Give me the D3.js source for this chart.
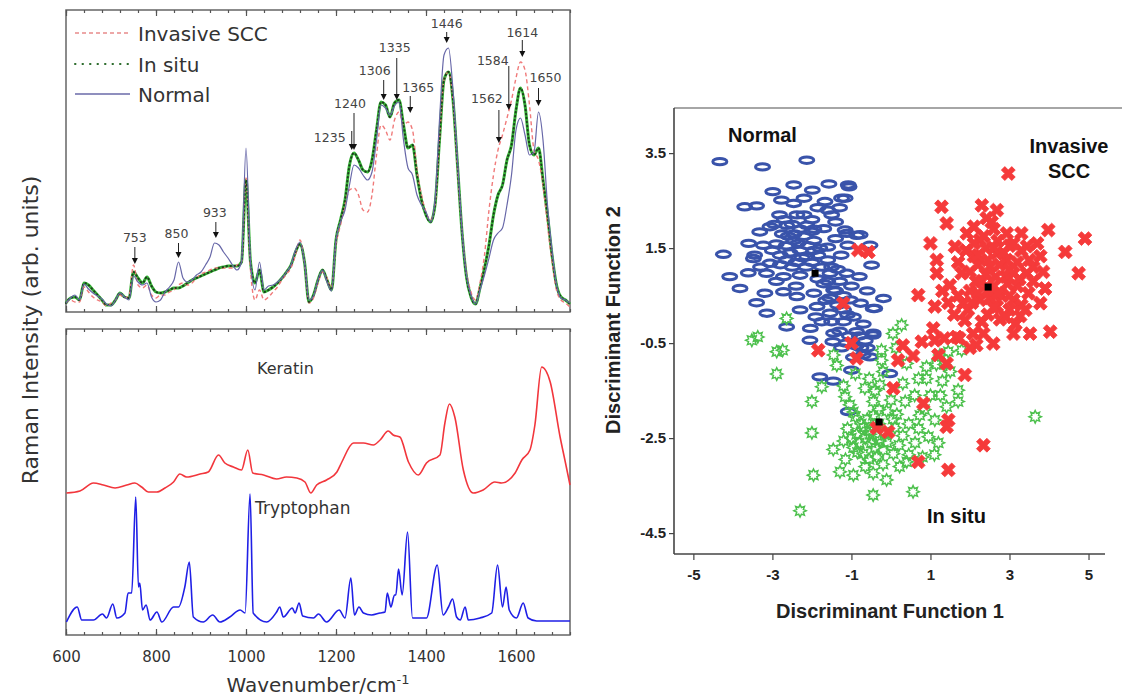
<!DOCTYPE html>
<html>
<head>
<meta charset="utf-8">
<script src="https://cdn.jsdelivr.net/npm/d3@7"></script>
<style>
  body { margin: 0; background: #fff; }
  svg { display: block; }
</style>
</head>
<body>
<svg width="1122" height="698"></svg>
<script>
// ---- spectra (top panel), sampled every 10 cm-1 from 600 to 1720 ----
var wavenumbers = d3.range(600, 1721, 10);

var invasiveSCC = [9,12,10,10,25,20,15,12,10,6, 9,12,17,14,16,47,27,24,27,17,
  14,17,17,20,22,27,29,27,29,34, 38,40,42,44,44,44,44,44,47,50,
  134,42,12,22,12,15,20,25,32,38, 44,57,72,50,9,14,29,40,34,24,
  67,87,107,122,124,117,102,100,117,157, 187,182,172,192,200,187,190,182,142,117,
  100,92,107,172,232,240,212,144,82,40, 20,12,29,57,102,137,162,177,194,212,
  234,250,242,207,162,152,127,87,50,22, 12,9,5];

var inSitu = [9,14,15,12,29,27,22,17,12,7, 7,12,19,15,14,40,34,29,35,26,
  20,19,20,22,24,24,26,29,32,34, 36,38,40,42,44,45,46,46,46,50,
  132,50,29,42,20,22,25,29,34,40, 47,60,68,50,10,17,32,42,32,22,
  72,92,112,147,159,152,142,140,152,182, 210,207,195,209,212,187,164,167,137,112,
  97,90,107,172,232,240,212,147,80,35, 15,8,24,44,67,97,117,127,152,167,
  202,224,207,167,157,164,132,97,57,27, 15,12,8];

var normal = [9,14,17,12,28,23,19,16,13,8, 6,12,19,15,12,36,30,27,29,15,
  10,12,20,25,32,50,34,30,32,37, 40,47,55,69,67,60,54,47,42,50,
  164,50,22,50,22,26,27,30,34,40, 47,62,70,50,12,16,32,42,30,21,
  72,90,102,127,147,144,137,132,140,172, 207,204,197,206,210,172,144,137,117,107,
  100,90,112,192,257,264,222,152,82,37, 17,8,22,37,54,72,79,84,107,137,
  182,194,177,157,160,200,172,107,62,27, 14,12,9];

var peakLabels = [753, 850, 933, 1235, 1240, 1306, 1335, 1365, 1446, 1562, 1584, 1614, 1650];

// ---- reference spectra (bottom panel) ----
var keratinWn = [601,631,661,683,709,735,753,768,783,802,820,839,853,868,898,916,939,953,972,990,
  1004,1015,1039,1068,1090,1113,1131,1144,1157,1179,1202,1213,1239,1261,1283,1298,1316,1327,1342,1361,
  1383,1401,1431,1442,1452,1464,1483,1505,1527,1553,1568,1598,1613,1631,1642,1657,1676,1698,1710,1720];
var keratin = [142,144,152,150,147,150,152,148,143,143,147,153,161,158,161,163,180,172,168,165,
  185,162,160,156,158,157,153,142,150,155,163,173,192,192,190,195,204,200,198,173,
  160,172,180,212,231,218,165,142,145,153,152,162,175,185,210,268,253,198,172,150];

var tryptophanWn = [601,625,635,661,681,690,704,713,731,738,746,755,761,764,770,778,787,802,813,839,
  850,864,874,883,905,926,942,964,987,998,1009,1016,1046,1068,1075,1083,1103,1109,1118,1126,
  1150,1161,1179,1207,1220,1233,1241,1251,1261,1279,1298,1309,1314,1322,1330,1333,1339,1347,1359,1370,
  1401,1425,1438,1450,1459,1468,1476,1487,1494,1520,1546,1559,1570,1578,1585,1601,1616,1627,1646,1720];
var tryptophan = [13,28,15,15,21,17,31,17,22,42,42,138,48,52,25,30,15,23,13,28,
  28,48,73,18,13,20,13,18,25,22,141,22,13,23,28,18,27,22,32,19,
  17,21,13,25,17,57,20,28,22,20,22,23,42,28,40,40,66,40,103,17,
  17,70,20,28,36,18,15,28,15,17,22,70,28,48,25,17,32,17,14,14];

var wnTicks = [600, 800, 1000, 1200, 1400, 1600];

// ---- discriminant scores ----
var normalPts = [[-4.33,3.32],[-3.25,3.21],[-2.13,3.35],[-2.99,2.69],[-2.46,2.83],[-1.99,2.72],[-1.57,2.85],[-1.06,2.79],
  [-3.70,2.37],[-3.40,2.39],[-2.77,2.51],[-2.46,2.44],[-1.67,2.48],[-1.25,2.55],[-1.60,2.30],[-2.82,2.20],[-2.38,2.20],
  [-1.50,2.20],[-3.06,1.95],[-2.64,1.98],[-2.13,1.98],[-1.70,1.91],[-1.16,1.88],[-0.87,1.77],[-3.32,1.84],[-3.23,1.56],
  [-2.90,1.59],[-2.46,1.66],[-1.95,1.66],[-1.60,1.52],[-1.09,1.56],[-0.53,1.56],[-4.24,1.37],[-3.48,1.28],[-3.06,1.18],
  [-2.64,1.25],[-2.13,1.32],[-1.60,1.25],[-1.26,1.35],[-0.49,1.14],[-4.08,0.90],[-3.61,0.98],[-3.15,0.97],[-2.72,0.90],
  [-2.30,0.93],[-1.54,0.97],[-1.12,0.97],[-3.82,0.65],[-3.19,0.55],[-2.72,0.58],[-2.38,0.48],[-1.95,0.55],[-1.45,0.62],
  [-1.03,0.41],[-0.77,0.34],[-0.45,0.23],[-3.14,0.13],[-2.64,-0.16],[-2.30,0.20],[-1.87,0.27],[-1.54,0.13],[-1.20,0.20],
  [-2.04,-0.19],[-1.45,-0.29],[-0.87,-0.26],[-0.45,-0.29],[-1.08,2.83],[-1.16,2.55],[-1.12,1.81],[-0.78,1.78],[-0.19,0.44],
  [-0.41,0.23],[-0.45,-0.33],[-2.05,-0.44],[-1.47,-0.47],[-1.13,-0.50],[-0.88,-0.56],[-0.76,-0.60],[-0.53,-0.79],
  [-1.00,-1.07],[-1.80,-1.21],[-1.46,-1.30],[-0.03,-1.14],[-1.08,-1.94],
  [-2.6,1.75],[-2.3,1.45],[-2.0,1.2],[-1.8,1.5],[-1.4,1.7],[-2.5,1.1],[-2.8,1.35],[-1.7,0.75],[-1.3,0.8],[-1.0,0.7],
  [-0.8,0.9],[-1.9,0.05],[-1.2,-0.05],[-0.95,0.05],[-0.7,-0.1],[-2.2,2.55],[-1.85,2.35],[-3.6,1.6],[-2.9,0.8],[-1.35,1.05],
  [-0.6,0.6],[-1.55,0.45],[-0.95,-0.8],[-0.65,-0.45],[-1.25,-0.6],[-2.4,0.7],[-3.4,0.35],[-1.75,-0.05],[-2.95,2.0],[-2.2,2.2],
  [-2.7,2.1],[-2.5,2.0],[-2.3,1.9],[-2.0,1.85],[-2.75,1.8],[-2.45,1.8],[-2.2,1.75],[-1.95,1.9],[-2.65,1.55],[-2.35,1.6],
  [-2.1,1.55],[-1.85,1.35],[-2.55,1.4],[-2.25,1.3],[-1.95,1.45],[-2.8,1.15],[-2.4,1.2],[-2.15,1.1],[-1.75,1.1],[-1.5,1.1],
  [-1.85,0.85],[-1.6,0.8],[-1.4,0.6],[-1.2,0.5],[-1.65,0.4],[-1.35,0.3],[-1.1,0.1],[-1.5,-0.05],[-1.3,-0.25],[-1.05,-0.35],
  [-0.8,-0.35],[-0.6,-0.6],[-0.7,-0.75],[-3.3,1.1],[-3.0,1.45],[-3.45,1.35],[-2.0,2.1],[-1.4,2.05],[-1.3,2.35]];

var inSituPts = [[-2.89,-0.68],[-2.89,-1.15],[-2.0,-1.73],[-2.0,-2.39],[-1.96,-3.28],[-2.3,-4.03],[-1.75,-1.42],[-1.37,-0.97],
  [-1.16,-1.63],[-1.04,-1.8],[-0.66,-1.45],[-0.45,-1.73],[-0.24,-0.65],[-0.24,-0.86],[-0.28,-1.38],[0.4,-0.93],[0.36,-1.73],
  [0.9,-1.0],[0.9,-1.25],[1.24,-0.75],[1.45,-0.68],[1.7,-1.49],[1.7,-1.73],[1.41,-1.84],[1.11,-2.12],[0.73,-2.02],[0.95,-2.47],
  [0.61,-2.6],[0.4,-3.0],[0.56,-3.63],[-0.45,-3.7],[-0.11,-3.38],[-0.45,-3.24],[-0.95,-3.28],[-1.29,-3.21],[-1.46,-2.74],
  [-1.2,-2.56],[-0.95,-2.7],[-0.7,-2.83],[-0.36,-2.9],[0.06,-2.83],[0.22,-3.1],[-0.7,-2.28],[-0.53,-2.42],[-0.87,-2.42],
  [-0.28,-2.56],[0.1,-2.28],[0.15,-2.0],[-0.11,-1.93],[-0.45,-2.02],[3.65,-2.05],[-3.52,-0.44],[-2.64,0.02],[-3.37,-0.37],
  [-2.74,-0.65],[-1.45,-0.75],[0.27,-0.12],[0.13,-0.6],[1.79,-0.65],
  [-0.6,-2.1],[-0.9,-2.05],[-0.3,-2.2],[-0.1,-2.6],[0.3,-2.45],[-0.5,-2.6],[-0.8,-2.6],[-1.1,-2.3],[-0.2,-3.05],[0.45,-2.2],
  [0.6,-1.6],[1.0,-1.6],[1.3,-1.3],[0.7,-1.25],[-0.2,-1.1],[-1.2,-1.4],[-0.9,-1.15],[0.0,-1.7],[-0.65,-3.1],[0.8,-2.9],
  [1.2,-2.6],[-0.4,-1.5],[1.15,-0.95],[0.05,-0.3],
  [-0.75,-2.2],[-0.55,-2.35],[-0.35,-2.45],[-0.15,-2.4],[-0.65,-2.5],[-0.4,-2.7],[-0.2,-2.75],[-0.85,-2.8],[-0.55,-2.95],
  [-1.0,-2.5],[-1.15,-2.95],[-0.3,-1.9],[0.2,-2.65],[0.45,-2.85],[0.05,-2.1],[-0.95,-1.95],[0.7,-2.3],[0.85,-1.9],
  [1.25,-1.6],[1.5,-1.1],[1.35,-0.95],[0.3,-1.35],[-0.55,-1.25],[1.1,-2.85]];

var invasivePts = [[2.97,3.07],[1.28,2.37],[1.41,2.02],[2.68,2.30],[2.42,2.13],[1.92,1.81],[1.62,1.53],[2.25,1.67],[2.93,1.81],
  [3.30,1.81],[3.98,1.88],[4.91,1.70],[4.41,1.42],[4.75,0.97],[3.78,1.33],[3.44,1.54],[2.68,1.39],[2.10,1.33],[1.79,0.97],
  [1.16,1.25],[1.16,0.97],[1.49,0.72],[0.69,0.51],[1.11,0.27],[1.83,0.34],[2.25,0.41],[2.68,0.27],[3.10,0.41],[3.48,0.55],
  [3.78,0.34],[3.10,0.97],[3.44,0.97],[2.51,1.11],[2.93,1.25],[1.07,-0.19],[1.11,-0.44],[1.87,-0.02],[2.08,-0.30],[1.66,-0.37],
  [2.34,-0.30],[2.59,-0.51],[3.10,-0.30],[3.52,-0.30],[4.03,-0.26],[2.76,0.00],[3.27,0.07],[-0.83,1.46],[-0.57,1.42],
  [-1.21,0.34],[-1.84,-0.65],[-0.87,-0.82],[0.18,-0.86],[0.56,-0.77],[0.78,-0.47],[1.41,-0.93],[1.87,-1.17],[2.16,-0.54],
  [1.35,-0.40],[1.73,-0.40],[0.06,-1.45],[0.82,-1.77],[1.45,-2.12],[1.41,-2.26],[2.34,-2.65],[0.69,-3.00],[1.45,-3.17],
  [-0.36,-2.29],[-0.07,-2.37],
  [2.0,1.0],[2.3,0.8],[2.6,0.7],[2.9,0.9],[2.2,1.15],[2.4,1.5],[2.7,1.65],[3.0,1.55],[3.2,1.2],[2.5,0.45],[2.0,0.6],[1.7,0.5],
  [3.6,0.8],[3.2,0.7],[2.8,0.5],[1.9,1.45],[2.1,1.95],[3.6,1.1],[1.45,0.35],[2.45,0.1],[1.95,0.2],[3.0,0.2],[2.3,-0.05],
  [1.6,0.1],[3.9,0.65],[1.3,0.6],[2.6,1.9],[3.3,1.45],[2.0,-0.6],[1.2,-0.75],[0.3,-0.55],[-1.0,-0.5],[1.0,1.6],
  [2.1,1.6],[2.35,1.75],[2.6,1.5],[2.85,1.4],[3.1,1.6],[2.2,1.35],[2.45,1.25],[2.75,1.15],[3.0,1.05],[2.15,0.8],
  [2.4,0.95],[2.65,0.9],[2.95,0.75],[3.25,0.85],[2.2,0.55],[2.45,0.6],[2.7,0.55],[3.0,0.5],[3.3,0.3],[2.6,0.25],
  [2.9,0.05],[3.5,1.25],[3.7,1.6],[3.4,0.2],[2.3,2.4],[2.55,2.05],[1.7,1.2],[3.85,1.0],[2.05,0.35],[3.15,-0.1]];

var centroids = [[-1.92,0.97],[2.46,0.68],[-0.30,-2.16]];

var df1Ticks = [-5, -3, -1, 1, 3, 5];
var df2Ticks = [3.5, 1.5, -0.5, -2.5, -4.5];

var svg = d3.select("svg");
var leftFont = "'DejaVu Sans', Verdana, sans-serif";
var rightFont = "'Liberation Sans', Arial, sans-serif";

// ================= LEFT: spectra =================
var x = d3.scaleLinear().domain([600, 1720]).range([66, 570]);
var yTop = d3.scaleLinear().domain([0, 302]).range([312, 10]);
var yBot = d3.scaleLinear().domain([0, 306]).range([635, 329]);

function panelFrame(y0, y1) {
  svg.append("rect")
    .attr("x", 66).attr("y", y0)
    .attr("width", 504).attr("height", y1 - y0)
    .attr("fill", "none").attr("stroke", "#666").attr("stroke-width", 1.5);
  var minor = d3.range(600, 1721, 40);
  [[y0, d3.axisTop], [y1, d3.axisBottom]].forEach(function (t) {
    var g1 = svg.append("g").attr("transform", "translate(0," + t[0] + ")")
      .call(t[1](x).tickValues(minor).tickSize(-3).tickFormat(""));
    var g2 = svg.append("g").attr("transform", "translate(0," + t[0] + ")")
      .call(t[1](x).tickValues(wnTicks).tickSize(-6).tickFormat(""));
    [g1, g2].forEach(function (g) {
      g.select(".domain").remove();
      g.selectAll("line").attr("stroke", "#555").attr("stroke-width", 1.2);
    });
  });
}
panelFrame(10, 312);
panelFrame(329, 635);

var lineTop = d3.line()
  .x(function (d, i) { return x(wavenumbers[i]); })
  .y(function (d) { return yTop(d); })
  .curve(d3.curveMonotoneX);

svg.append("path").datum(inSitu).attr("d", lineTop)
  .attr("fill", "none").attr("stroke", "#36b336").attr("stroke-width", 3);
svg.append("path").datum(invasiveSCC).attr("d", lineTop)
  .attr("fill", "none").attr("stroke", "#f07a7a").attr("stroke-width", 1.4)
  .attr("stroke-dasharray", "4,3");
svg.append("path").datum(inSitu).attr("d", lineTop)
  .attr("fill", "none").attr("stroke", "#1d3f1d").attr("stroke-width", 2)
  .attr("stroke-linecap", "round").attr("stroke-dasharray", "0.5,3.5");
svg.append("path").datum(normal).attr("d", lineTop)
  .attr("fill", "none").attr("stroke", "#6767a8").attr("stroke-width", 1.2);

// peak annotations: [text dx, text baseline, arrow top, arrow tip]
var peakLayout = {
  753: [0, 242, 247, 264], 850: [-2, 238, 243, 258], 933: [-1, 217, 222, 238],
  1235: [-22, 142, 131, 150], 1240: [-4, 108, 113, 150], 1306: [-9, 75, 80, 100],
  1335: [-2, 52, 58, 100], 1365: [8, 92, 96, 113], 1446: [0, 28, 32, 43],
  1562: [-12, 103, 110, 143], 1584: [-16, 65, 66, 110], 1614: [0, 37, 40, 57],
  1650: [7, 82, 88, 106]
};
var ann = svg.append("g");
peakLabels.forEach(function (p) {
  var L = peakLayout[p], ax = x(p);
  ann.append("text").attr("x", ax + L[0]).attr("y", L[1])
    .attr("text-anchor", "middle").attr("font-family", leftFont)
    .attr("font-size", 12.5).attr("fill", "#444").text(p);
  ann.append("line").attr("x1", ax).attr("x2", ax).attr("y1", L[2]).attr("y2", L[3] - 5)
    .attr("stroke", "#222").attr("stroke-width", 1);
  ann.append("path")
    .attr("d", "M" + (ax - 3) + "," + (L[3] - 6) + "L" + (ax + 3) + "," + (L[3] - 6) + "L" + ax + "," + L[3] + "Z")
    .attr("fill", "#111");
});

// legend
var legend = [
  { name: "Invasive SCC", y: 33, stroke: "#e88a8a", w: 1.4, dash: "4,3", cap: "butt" },
  { name: "In situ", y: 64, stroke: "#2b6b2b", w: 2, dash: "0.5,7", cap: "round" },
  { name: "Normal", y: 94, stroke: "#6a6aa8", w: 1.5, dash: null, cap: "butt" }
];
legend.forEach(function (l) {
  svg.append("line").attr("x1", 75).attr("x2", 130).attr("y1", l.y).attr("y2", l.y)
    .attr("stroke", l.stroke).attr("stroke-width", l.w)
    .attr("stroke-dasharray", l.dash).attr("stroke-linecap", l.cap);
  svg.append("text").attr("x", 138).attr("y", l.y + 7.5)
    .attr("font-family", leftFont).attr("font-size", 20).attr("fill", "#333").text(l.name);
});

// bottom panel spectra
var lineK = d3.line().x(function (d, i) { return x(keratinWn[i]); })
  .y(function (d) { return yBot(d); }).curve(d3.curveMonotoneX);
var lineT = d3.line().x(function (d, i) { return x(tryptophanWn[i]); })
  .y(function (d) { return yBot(d); }).curve(d3.curveMonotoneX);
svg.append("path").datum(keratin).attr("d", lineK)
  .attr("fill", "none").attr("stroke", "#f2363c").attr("stroke-width", 1.6);
svg.append("path").datum(tryptophan).attr("d", lineT)
  .attr("fill", "none").attr("stroke", "#1f1fe6").attr("stroke-width", 1.6);
svg.append("text").attr("x", 257).attr("y", 374).attr("font-family", leftFont)
  .attr("font-size", 16).attr("fill", "#333").text("Keratin");
svg.append("text").attr("x", 255).attr("y", 514).attr("font-family", leftFont)
  .attr("font-size", 17).attr("fill", "#333").text("Tryptophan");

// x tick labels
var xLab = svg.append("g").attr("transform", "translate(0,635)")
  .call(d3.axisBottom(x).tickValues(wnTicks).tickSize(0).tickPadding(16).tickFormat(d3.format("d")));
xLab.select(".domain").remove();
xLab.selectAll("text").attr("font-family", leftFont).attr("font-size", 15).attr("fill", "#333");

var xt = svg.append("text").attr("x", 318).attr("y", 692).attr("text-anchor", "middle")
  .attr("font-family", leftFont).attr("font-size", 20).attr("fill", "#333");
xt.append("tspan").text("Wavenumber/cm");
xt.append("tspan").attr("dy", -8).attr("font-size", 13).text("-1");

svg.append("text").attr("transform", "translate(38,330) rotate(-90)")
  .attr("text-anchor", "middle").attr("font-family", leftFont).attr("font-size", 22)
  .attr("fill", "#333").text("Raman Intensity (arb. units)");

// ================= RIGHT: discriminant scatter =================
var sx = d3.scaleLinear().domain([-5.49, 5.67]).range([674, 1115]);
var sy = d3.scaleLinear().domain([-4.94, 4.45]).range([554, 108]);

svg.append("line").attr("x1", 674).attr("x2", 1122).attr("y1", 108).attr("y2", 108)
  .attr("stroke", "#888").attr("stroke-width", 1.5);

var yAx = svg.append("g").attr("transform", "translate(674,0)")
  .call(d3.axisLeft(sy).tickValues(df2Ticks).tickSize(5).tickPadding(3).tickFormat(function (d) { return String(d); }));
var xAx = svg.append("g").attr("transform", "translate(0,554)")
  .call(d3.axisBottom(sx).tickValues(df1Ticks).tickSize(6).tickPadding(9).tickFormat(function (d) { return String(d); }));
[yAx, xAx].forEach(function (g) {
  g.select(".domain").attr("stroke", "#444").attr("stroke-width", 1.6);
  g.selectAll("line").attr("stroke", "#444").attr("stroke-width", 1.2);
  g.selectAll("text").attr("font-family", rightFont).attr("font-weight", "bold")
    .attr("font-size", 15).attr("fill", "#222");
});
yAx.select(".domain").attr("d", "M0,108V554");
xAx.select(".domain").attr("d", "M674,0H1105");

var pts = svg.append("g");
pts.selectAll("ellipse.normal").data(normalPts).enter().append("ellipse")
  .attr("cx", function (d) { return sx(d[0]); })
  .attr("cy", function (d) { return sy(d[1]); })
  .attr("rx", 7).attr("ry", 3.2)
  .attr("fill", "none").attr("stroke", "#3953aa").attr("stroke-width", 3);

var star = d3.lineRadial().curve(d3.curveLinearClosed)
  .angle(function (d, i) { return i * Math.PI / 8; })
  .radius(function (d, i) { return i % 2 ? 3.6 : 6.2; });
var starPath = star(d3.range(16));
pts.selectAll("path.insitu").data(inSituPts).enter().append("path")
  .attr("d", starPath)
  .attr("transform", function (d) { return "translate(" + sx(d[0]) + "," + sy(d[1]) + ")"; })
  .attr("fill", "none").attr("stroke", "#4cc04c").attr("stroke-width", 1.5);

var cross = d3.symbol().type(d3.symbolCross).size(120)();
pts.selectAll("path.inv").data(invasivePts).enter().append("path")
  .attr("d", cross)
  .attr("transform", function (d) { return "translate(" + sx(d[0]) + "," + sy(d[1]) + ") rotate(45)"; })
  .attr("fill", "#f53a3a").attr("stroke", "#f53a3a").attr("stroke-width", 0.8)
  .attr("stroke-linejoin", "round");

pts.selectAll("rect.c").data(centroids).enter().append("rect")
  .attr("x", function (d) { return sx(d[0]) - 3.5; })
  .attr("y", function (d) { return sy(d[1]) - 3.5; })
  .attr("width", 7).attr("height", 7).attr("fill", "#000");

function boldText(t, xx, yy, anchor) {
  svg.append("text").attr("x", xx).attr("y", yy).attr("text-anchor", anchor || "start")
    .attr("font-family", rightFont).attr("font-weight", "bold").attr("font-size", 20)
    .attr("fill", "#111").text(t);
}
boldText("Normal", 728, 142);
boldText("Invasive", 1069, 153, "middle");
boldText("SCC", 1069, 178, "middle");
boldText("In situ", 927, 523);

svg.append("text").attr("x", 890).attr("y", 618).attr("text-anchor", "middle")
  .attr("font-family", rightFont).attr("font-weight", "bold").attr("font-size", 20)
  .attr("fill", "#222").text("Discriminant Function 1");
svg.append("text").attr("transform", "translate(620,320) rotate(-90)")
  .attr("text-anchor", "middle").attr("font-family", rightFont).attr("font-weight", "bold")
  .attr("font-size", 20).attr("fill", "#222").text("Discriminant Function 2");
</script>
</body>
</html>
